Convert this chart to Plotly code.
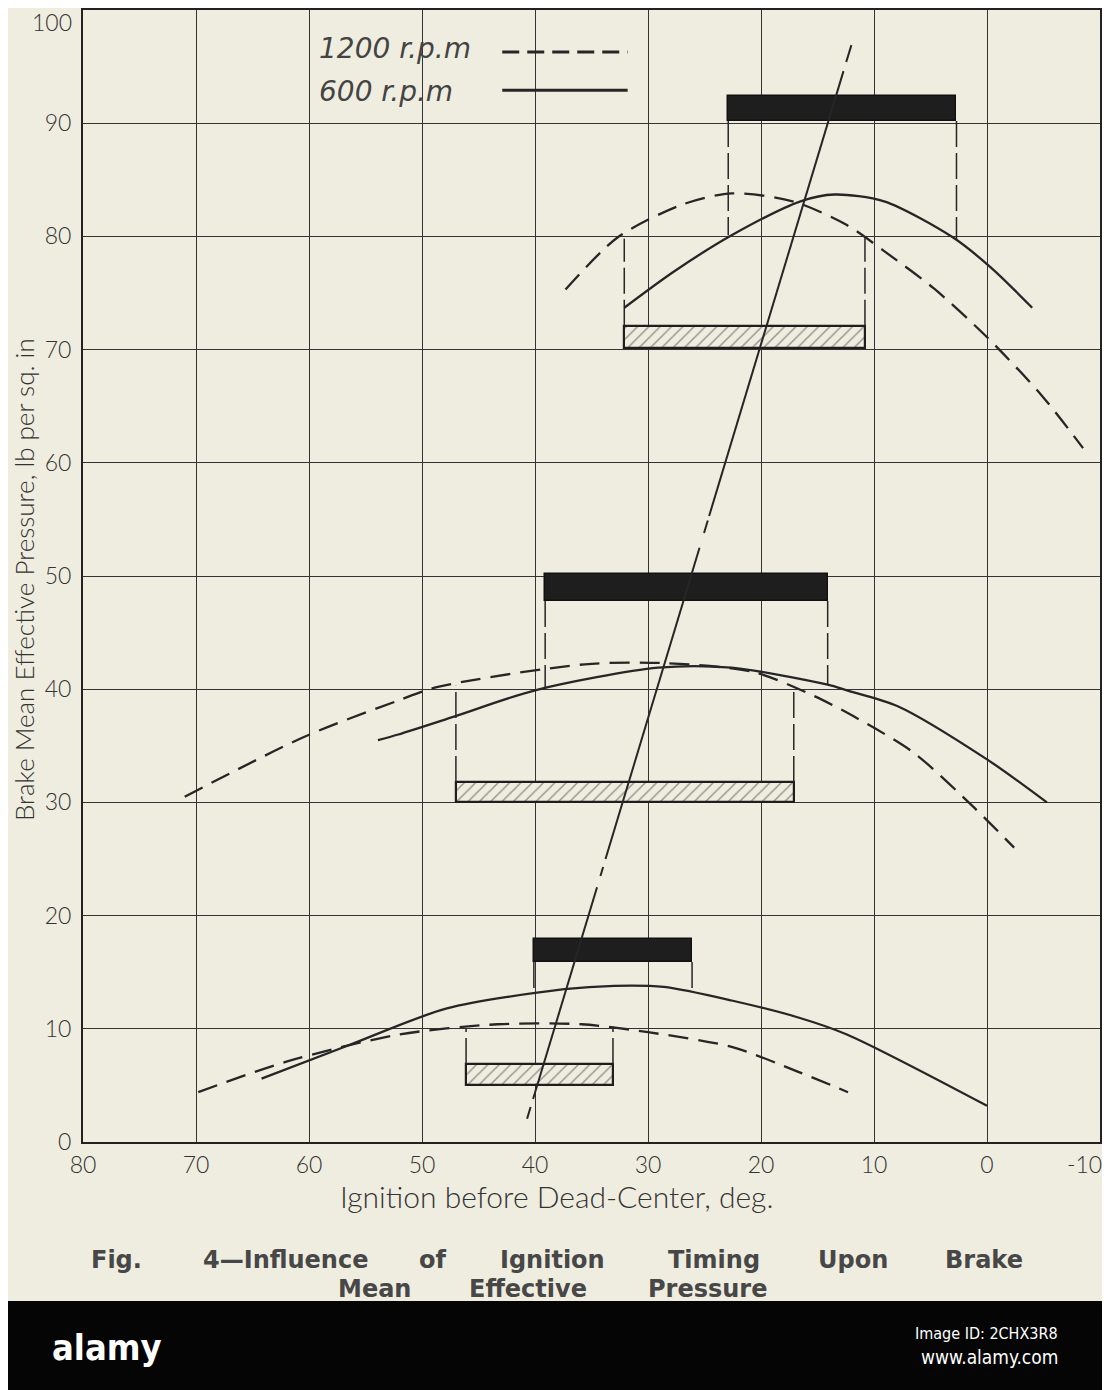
import plotly.graph_objects as go

# ignition advance (deg before dead-center) vs brake mean effective pressure (lb per sq in)
rpm1200_top_x = [37.3, 32.7, 27.0, 22.6, 17.2, 12.4, 9.1, 4.7, -0.1, -4.8, -8.5]
rpm1200_top_y = [75.3, 79.9, 82.8, 83.8, 83.1, 81.0, 78.7, 75.4, 71.0, 66.0, 61.3]
rpm600_top_x = [32.1, 27.7, 22.6, 16.5, 13.5, 9.1, 3.0, -0.4, -4.0]
rpm600_top_y = [73.7, 76.9, 80.1, 83.1, 83.7, 83.1, 79.9, 77.2, 73.7]

rpm1200_mid_x = [71.0, 60.4, 52.1, 48.6, 35.6, 28.5, 20.6, 15.3, 11.8, 6.5, 1.2, -2.4]
rpm1200_mid_y = [30.5, 35.8, 39.0, 40.2, 42.2, 42.3, 41.5, 39.4, 37.6, 34.4, 29.6, 26.0]
rpm600_mid_x = [53.9, 52.1, 47.1, 40.0, 29.1, 22.6, 14.1, 12.4, 7.9, 0.0, -5.3]
rpm600_mid_y = [35.5, 36.0, 37.6, 39.9, 41.9, 41.9, 40.4, 39.9, 38.5, 33.8, 30.0]

rpm1200_bot_x = [69.8, 62.0, 52.0, 43.3, 35.9, 30.0, 22.6, 16.7, 12.3]
rpm1200_bot_y = [4.4, 7.1, 9.5, 10.4, 10.4, 9.7, 8.4, 6.2, 4.4]
rpm600_bot_x = [64.2, 56.6, 47.8, 37.4, 33.0, 28.6, 22.6, 16.7, 12.4, 0.0]
rpm600_bot_y = [5.6, 8.5, 11.8, 13.5, 13.8, 13.7, 12.5, 11.0, 9.5, 3.2]

# solid bars = 600 r.p.m. range, hatched bars = 1200 r.p.m. range (top, middle, bottom)
black_from = [22.9, 39.1, 40.1]
black_to = [2.7, 14.1, 26.1]
black_low = [90.2, 47.8, 15.9]
black_high = [92.4, 50.15, 17.9]
black_curve = [[80.1, 79.7], [40.0, 40.4], [13.4, 13.3]]

hatch_from = [32.1, 47.0, 46.1]
hatch_to = [10.8, 17.1, 33.1]
hatch_low = [70.1, 30.0, 5.05]
hatch_high = [72.1, 31.8, 6.9]
hatch_curve = [[79.8, 79.9], [40.3, 40.0], [10.0, 10.2]]

# sloping timing line, pieces (start, end)
ign_x = [40.70, 40.39, 40.17, 34.51, 34.21, 33.97, 33.76, 25.44, 25.04, 24.71, 24.59, 12.70, 12.46, 12.0]
ign_y = [2.06, 3.1, 3.8, 22.5, 23.5, 24.3, 25.0, 52.5, 53.8, 54.9, 55.3, 94.6, 95.4, 96.9]

x_ticks = [80, 70, 60, 50, 40, 30, 20, 10, 0, -10]
y_ticks = [0, 10, 20, 30, 40, 50, 60, 70, 80, 90, 100]

paper = '#efeddf'
ink = '#262626'

# the page body adds 8px, so the figure is laid out 8px up and left of the target
# plot area on screen: left 83, right 1100, top 10, bottom 1142
def px(x):
    return (x - 83) / 1017

def py(y):
    return (1142 - y) / 1132

fig = go.Figure()

for lo, hi, a, b in zip(black_low, black_high, black_from, black_to):
    fig.add_trace(go.Bar(
        orientation='h', y=[(lo + hi) / 2], width=[hi - lo], base=[b], x=[a - b],
        marker=dict(color='#1e1e1e', line=dict(color='#111', width=1.5)),
        showlegend=False, hoverinfo='skip'
    ))

for lo, hi, a, b in zip(hatch_low, hatch_high, hatch_from, hatch_to):
    fig.add_trace(go.Bar(
        orientation='h', y=[(lo + hi) / 2], width=[hi - lo], base=[b], x=[a - b],
        marker=dict(color=paper, line=dict(color='#1e1e1e', width=2.2),
                    pattern=dict(shape='/', fgcolor='#3a3a3a', size=8, solidity=0.18)),
        showlegend=False, hoverinfo='skip'
    ))

# vertical drop lines from the bars to the curves
drop_x, drop_y = [], []
for i in range(3):
    for j, xx in enumerate([black_from[i], black_to[i]]):
        drop_x += [xx, xx, None]
        drop_y += [black_low[i], black_curve[i][j], None]
    for j, xx in enumerate([hatch_from[i], hatch_to[i]]):
        drop_x += [xx, xx, None]
        drop_y += [hatch_high[i], hatch_curve[i][j], None]
fig.add_trace(go.Scatter(x=drop_x, y=drop_y, mode='lines',
                         line=dict(color=ink, width=1.5, dash='26px,6px'),
                         showlegend=False, hoverinfo='skip'))

curves = [
    (rpm1200_top_x, rpm1200_top_y, '20px,10px'),
    (rpm600_top_x, rpm600_top_y, 'solid'),
    (rpm1200_mid_x, rpm1200_mid_y, '20px,10px'),
    (rpm600_mid_x, rpm600_mid_y, 'solid'),
    (rpm1200_bot_x, rpm1200_bot_y, '20px,10px'),
    (rpm600_bot_x, rpm600_bot_y, 'solid'),
]
for cx, cy, dash in curves:
    fig.add_trace(go.Scatter(
        x=cx, y=cy, mode='lines', line=dict(color=ink, width=2.3, dash=dash, shape='spline', smoothing=0.8),
        showlegend=False, hoverinfo='skip'
    ))

seg_x, seg_y = [], []
for k in range(0, len(ign_x), 2):
    seg_x += [ign_x[k], ign_x[k + 1], None]
    seg_y += [ign_y[k], ign_y[k + 1], None]
fig.add_trace(go.Scatter(x=seg_x, y=seg_y, mode='lines', line=dict(color=ink, width=2),
                         showlegend=False, hoverinfo='skip'))

# legend drawn by hand: label on the left, line sample on the right
legend_font = dict(family='DejaVu Sans', size=28, color='#444', style='italic')
fig.add_annotation(x=59.3, y=96.6, xref='x', yref='y', text='1200 r.p.m', showarrow=False,
                   xanchor='left', yanchor='middle', font=legend_font)
fig.add_annotation(x=59.3, y=92.8, xref='x', yref='y', text='600 r.p.m', showarrow=False,
                   xanchor='left', yanchor='middle', font=legend_font)
fig.add_shape(type='line', x0=42.9, x1=31.8, y0=96.3, y1=96.3, xref='x', yref='y',
              line=dict(color=ink, width=3, dash='17px,8px'))
fig.add_shape(type='line', x0=42.9, x1=31.8, y0=92.9, y1=92.9, xref='x', yref='y',
              line=dict(color=ink, width=3))

tick_font = dict(family='Lato', size=23, color='#333', weight=300)
# the two edge labels sit at the page border, drawn as notes so they stay readable
fig.add_annotation(x=px(74), y=py(22), xref='paper', yref='paper', text=str(y_ticks[-1]),
                   showarrow=False, xanchor='right', yanchor='middle', font=tick_font)
fig.add_annotation(x=px(1084), y=py(1164), xref='paper', yref='paper', text=str(x_ticks[-1]),
                   showarrow=False, xanchor='center', yanchor='middle', font=tick_font)

# axis titles
fig.add_annotation(x=px(24), y=py(580), xref='paper', yref='paper', textangle=-90,
                   text='Brake Mean Effective Pressure, lb per sq. in', showarrow=False,
                   xanchor='center', yanchor='middle',
                   font=dict(family='Lato', size=26, color='#333', weight=300))
fig.add_annotation(x=px(556), y=py(1196), xref='paper', yref='paper',
                   text='Ignition before Dead-Center, deg.', showarrow=False,
                   xanchor='center', yanchor='middle',
                   font=dict(family='Lato', size=30, color='#333', weight=300))

# caption, word by word to keep the justified spacing
cap_font = dict(family='DejaVu Sans', size=24, color='#474747', weight=700)
line1 = [('Fig.', 116), ('4—Influence', 285), ('of', 432), ('Ignition', 552),
         ('Timing', 714), ('Upon', 853), ('Brake', 984)]
line2 = [('Mean', 374), ('Effective', 528), ('Pressure', 707)]
for word, cx in line1:
    fig.add_annotation(x=px(cx), y=py(1260), xref='paper', yref='paper', text=word,
                       showarrow=False, xanchor='center', yanchor='middle', font=cap_font)
for word, cx in line2:
    fig.add_annotation(x=px(cx), y=py(1289), xref='paper', yref='paper', text=word,
                       showarrow=False, xanchor='center', yanchor='middle', font=cap_font)

# black stock-photo band at the bottom
fig.add_shape(type='rect', xref='paper', yref='paper', x0=px(-20), x1=px(1130), y0=py(1410), y1=py(1301),
              fillcolor='#050505', line=dict(width=0), layer='above')
band_font = 'DejaVu Sans Condensed, DejaVu Sans'
fig.add_annotation(x=px(50), y=py(1347), xref='paper', yref='paper', text='<b>alamy</b>', showarrow=False,
                   xanchor='left', yanchor='middle', font=dict(family=band_font, size=36, color='white'))
fig.add_annotation(x=px(1060), y=py(1333), xref='paper', yref='paper', text='Image ID: 2CHX3R8', showarrow=False,
                   xanchor='right', yanchor='middle', font=dict(family=band_font, size=16, color='white'))
fig.add_annotation(x=px(1060), y=py(1357), xref='paper', yref='paper', text='www.alamy.com', showarrow=False,
                   xanchor='right', yanchor='middle', font=dict(family=band_font, size=19, color='white'))

axis_common = dict(
    showgrid=True, gridcolor='#333', gridwidth=1.3,
    showline=True, linecolor='#222', linewidth=2, mirror=True,
    zeroline=False, ticks='', ticklabeloverflow='allow', automargin=False,
    tickfont=tick_font,
)

fig.update_layout(
    width=1110, height=1390,
    margin=dict(l=75, r=18, t=2, b=256),
    paper_bgcolor=paper, plot_bgcolor=paper,
    barmode='overlay', bargap=0,
    showlegend=False,
    xaxis=dict(range=[80, -10], tickvals=x_ticks, ticktext=[str(v) for v in x_ticks[:-1]] + [''],
               ticklabelstandoff=1, **axis_common),
    yaxis=dict(range=[0, 100], tickvals=y_ticks, ticktext=[str(v) for v in y_ticks[:-1]] + [''],
               ticklabelstandoff=5, **axis_common),
)

fig.write_html("out.html")
